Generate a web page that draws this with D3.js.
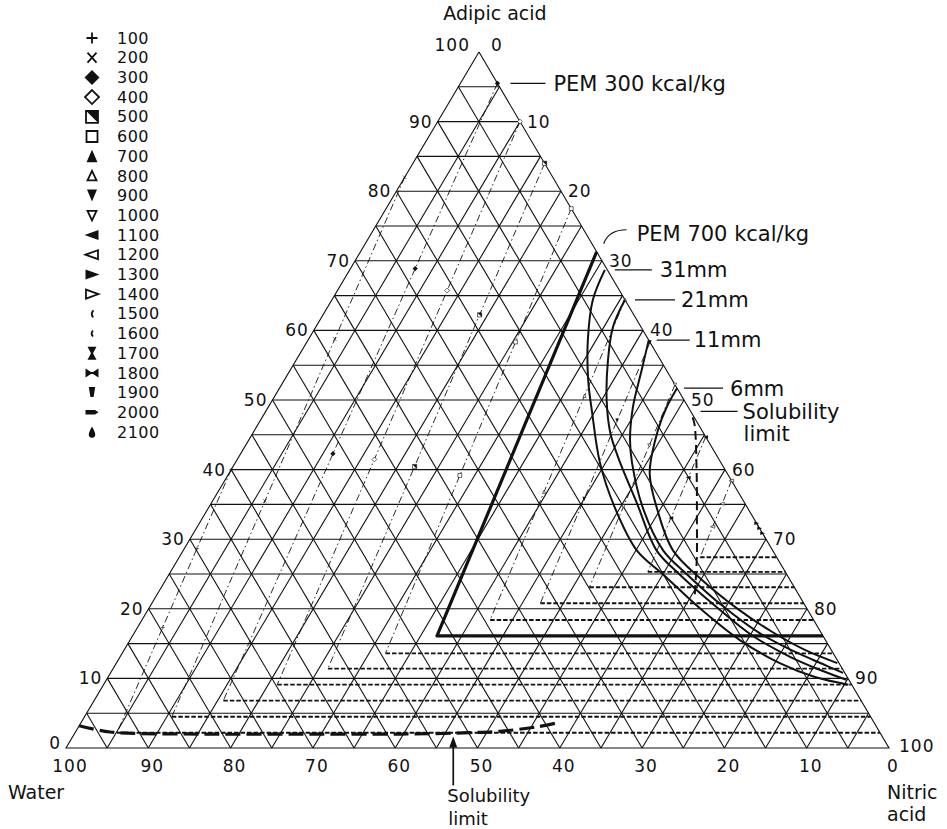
<!DOCTYPE html>
<html>
<head>
<meta charset="utf-8">
<script src="https://cdn.jsdelivr.net/npm/d3@7"></script>
<style>
  body { margin: 0; background: #fff; }
  svg { display: block; }
  text { font-family: "DejaVu Sans", sans-serif; fill: #111; }
</style>
</head>
<body>
<svg id="chart" width="947" height="829"></svg>
<script>
// ternary axes: adipic acid (top), nitric acid (right), water (left)
const gridStep = 5;
const adipicTicks = [0, 10, 20, 30, 40, 50, 60, 70, 80, 90];
const nitricTicks = [10, 20, 30, 40, 50, 60, 70, 80, 90];
const waterTicks = [100, 90, 80, 70, 60, 50, 40, 30, 20, 10, 0];

const legendValues = [100, 200, 300, 400, 500, 600, 700, 800, 900, 1000, 1100,
  1200, 1300, 1400, 1500, 1600, 1700, 1800, 1900, 2000, 2100];

// PEM isolines (kcal/kg): corner on the stoichiometric line, a flat part to the
// nitric edge and a sloped part up to the end point
const pemValues = [100, 200, 300, 400, 500, 600, 700, 800, 900, 1000, 1100, 1200, 1300];
const pemCornerAdipic = [2.2, 4.5, 6.8, 9.1, 11.4, 13.6, 16.1, 18.4, 20.8, 23.1, 25.3, 27.4, 29.9];
const pemCornerNitric = [5.1, 10.6, 15.7, 21.1, 26.1, 32.0, 37.0, 42.3, 47.2, 52.0, 58.0, 63.3, 70.1];
const pemEndAdipic = [40, 82, 95.5, 90, 84, 77.5, 71.3, 64.4, 58.3, 52.2, 44.7, 38.4, 32.3];
const pemEndNitric = [0, 0, 4.5, 10, 16, 22.5, 28.7, 35.6, 41.7, 47.8, 55.3, 61.6, 67.7];

// critical diameter curves, points as [adipic, nitric]
const curveNames = ["31mm", "21mm", "11mm", "6mm"];
const curve31 = [[68.7,31.0],[64.4,31.7],[58.6,34.0],[52.9,36.9],[48.1,39.8],[41.0,44.3],[34.6,49.3],
  [28.4,55.1],[24.9,60.1],[20.1,66.9],[15.5,74.1],[12.2,80.6],[10.2,85.9],[9.1,90.5]];
const curve21 = [[64.4,35.6],[60.5,36.1],[55.7,37.9],[50.0,40.6],[45.3,43.4],[41.8,46.1],[35.2,51.7],
  [28.4,57.5],[24.9,62.1],[20.5,68.5],[16.2,75.2],[13.1,81.4],[11.1,86.3],[9.8,89.9]];
const curve11 = [[58.6,41.4],[54.3,42.7],[49.0,44.3],[44.3,46.3],[41.0,48.2],[34.6,52.7],[28.4,58.3],
  [24.9,63.0],[20.5,69.4],[16.5,76.0],[13.8,81.7],[12.1,85.8],[10.8,89.0]];
const curve6 = [[51.7,48.3],[49.0,48.4],[45.7,49.0],[39.5,51.1],[34.2,54.7],[28.4,59.5],[24.4,64.8],
  [20.1,71.4],[16.7,77.4],[14.1,82.7],[12.2,87.6]];
const curveData = [curve31, curve21, curve11, curve6];

// solubility limits, [adipic, nitric]
const solubilityUpper = [[47.5,52.3],[46.4,53.1],[39.9,56.6],[32.8,60.2],[27.4,62.9],[21.7,65.5]];
const solubilityLower = [[3.2,0],[2.3,4.2],[2.0,15.3],[2.0,27.4],[2.0,39.6],[2.2,48.0],[2.4,51.5],[3.0,55.5],[3.7,58.2]];

const svg = d3.select("#chart");

// projection: y from adipic, x from nitric plus the shift of the slanted edge
const yScale = d3.scaleLinear().domain([0, 100]).range([748, 52]);
const nScale = d3.scaleLinear().domain([0, 100]).range([66, 889]);
const aShift = d3.scaleLinear().domain([0, 100]).range([0, 413]);
function px(a, n) { return [nScale(n) + aShift(a), yScale(a)]; }

const ink = "#111";
const line = d3.line().x(d => px(d[0], d[1])[0]).y(d => px(d[0], d[1])[1]);
const smooth = d3.line().x(d => px(d[0], d[1])[0]).y(d => px(d[0], d[1])[1]).curve(d3.curveCatmullRom);

// legend symbol shapes, one per PEM value
const symbolShapes = [
  ["M-5.5,0H5.5M0,-5.5V5.5", "s"],
  ["M-4.5,-5L4.5,5M4.5,-5L-4.5,5", "s"],
  ["M0,-7.5L7.5,0L0,7.5L-7.5,0Z", "f"],
  ["M0,-7L7,0L0,7L-7,0Z", "s"],
  ["M-6,-6H6V6H-6Z", "h"],
  ["M-5.5,-5.5H5.5V5.5H-5.5Z", "s"],
  ["M0,-6.5L5.5,6H-5.5Z", "f"],
  ["M0,-5L4.5,4.5H-4.5Z", "s"],
  ["M-5,-6H5L0,6Z", "f"],
  ["M-4.5,-4.5H4.5L0,5Z", "s"],
  ["M-7.5,0L6.5,-5V5Z", "f"],
  ["M-6.5,0L6,-4.5V4.5Z", "s"],
  ["M7.5,0L-6.5,-5V5Z", "f"],
  ["M6.5,0L-6,-4.5V4.5Z", "s"],
  ["M1.5,-3.5Q-1.8,0 1.2,3.5", "s"],
  ["M1,-3Q-1.8,0 1,3", "s"],
  ["M-4.5,-6.5H4.5L1,0L4.5,6.5H-4.5L-1,0Z", "f"],
  ["M-6.5,-4.5L-1,-1H1L6.5,-4.5V4.5L1,1H-1L-6.5,4.5Z", "f"],
  ["M-3.2,-5.5H3.2L1.6,4.5H-1.6Z", "f"],
  ["M-6.5,-2.2H3L6.5,0L3,2.2H-6.5Z", "f"],
  ["M0,-5.5C2,-2 3.2,1 3.2,2.5A3.2,3.2 0 0 1 -3.2,2.5C-3.2,1 -2,-2 0,-5.5Z", "f"]
];
function drawSymbol(parent, i, x, y, k) {
  const [d, kind] = symbolShapes[i];
  const g = parent.append("g").attr("transform", `translate(${x},${y}) scale(${k})`);
  if (kind === "h") {
    g.append("path").attr("d", d).attr("fill", "#fff").attr("stroke", ink).attr("stroke-width", 1.8);
    g.append("path").attr("d", "M-6,-6H6V6Z").attr("fill", ink);
  } else if (kind === "f") {
    g.append("path").attr("d", d).attr("fill", ink);
  } else {
    g.append("path").attr("d", d).attr("fill", "#fff").attr("stroke", ink).attr("stroke-width", 1.8);
  }
}

// grid
const grid = svg.append("g").attr("stroke", ink).attr("stroke-width", 1.1).attr("fill", "none");
const steps = d3.range(gridStep, 100, gridStep);
steps.forEach(k => {
  grid.append("path").attr("d", line([[k, 0], [k, 100 - k]]));       // constant adipic
  grid.append("path").attr("d", line([[0, k], [100 - k, k]]));       // constant nitric
  grid.append("path").attr("d", line([[0, 100 - k], [100 - k, 0]])); // constant water
});
grid.append("path").attr("d", line([[100, 0], [0, 0], [0, 100], [100, 0]])).attr("stroke-width", 1.1);

// PEM isolines
const pem = svg.append("g").attr("fill", "none").attr("stroke", ink);
const pemMarks = svg.append("g");
pemValues.forEach((v, i) => {
  const corner = [pemCornerAdipic[i], pemCornerNitric[i]];
  const edge = [pemCornerAdipic[i], 100 - pemCornerAdipic[i]];
  const top = [pemEndAdipic[i], pemEndNitric[i]];
  if (v === 700) {
    pem.append("path").attr("d", line([top, corner, edge]))
      .attr("stroke-width", 3.2).attr("stroke-linejoin", "round");
    return;
  }
  pem.append("path").attr("d", line([corner, edge]))
    .attr("stroke-width", 1.9).attr("stroke-dasharray", "4.5,2");
  pem.append("path").attr("d", line([top, corner]))
    .attr("stroke-width", 0.9).attr("stroke-dasharray", "7,3,1.5,3");
  // sparse markers along the sloped part
  [0, 0.3, 0.6].forEach(t => {
    const p0 = px(top[0], top[1]), p1 = px(corner[0], corner[1]);
    drawSymbol(pemMarks, legendValues.indexOf(v), p0[0] + (p1[0] - p0[0]) * t, p0[1] + (p1[1] - p0[1]) * t, 0.35);
  });
});

// solubility limits
svg.append("path").attr("d", smooth(solubilityUpper)).attr("fill", "none").attr("stroke", ink)
  .attr("stroke-width", 2).attr("stroke-dasharray", "9,5");
svg.append("path").attr("d", smooth(solubilityLower)).attr("fill", "none").attr("stroke", ink)
  .attr("stroke-width", 3.2).attr("stroke-dasharray", "15,6");

// diameter curves
curveData.forEach(c => {
  svg.append("path").attr("d", smooth(c)).attr("fill", "none").attr("stroke", ink).attr("stroke-width", 2);
});

// axis labels
const labels = svg.append("g").style("font-size", "17px").style("letter-spacing", "1px");
adipicTicks.forEach(t => {
  const p = px(t, 0);
  labels.append("text").attr("x", p[0] - 5).attr("y", p[1] - (t === 0 ? 5 : 0)).attr("dy", "0.35em")
    .attr("text-anchor", "end").text(t);
});
labels.append("text").attr("x", px(100, 0)[0] - 9).attr("y", px(100, 0)[1] - 7)
  .attr("text-anchor", "end").attr("dy", "0.35em").text(100);
labels.append("text").attr("x", px(100, 0)[0] + 12).attr("y", px(100, 0)[1] - 7)
  .attr("dy", "0.35em").text(0);
nitricTicks.forEach(t => {
  const p = px(100 - t, t);
  labels.append("text").attr("x", p[0] + 7).attr("y", p[1]).attr("dy", "0.35em").text(t);
});
labels.append("text").attr("x", px(0, 100)[0] + 10).attr("y", px(0, 100)[1] - 2)
  .attr("dy", "0.35em").text(100);
waterTicks.forEach(t => {
  const p = px(0, 100 - t);
  labels.append("text").attr("x", p[0] + 4).attr("y", p[1] + 18).attr("dy", "0.35em")
    .attr("text-anchor", "middle").text(t);
});

// component names
const names = svg.append("g").style("font-size", "19px");
names.append("text").attr("x", px(100, 0)[0] + 16).attr("y", 20).attr("text-anchor", "middle").text("Adipic acid");
names.append("text").attr("x", 8).attr("y", 799).text("Water");
names.append("text").attr("x", 887).attr("y", 799).text("Nitric");
names.append("text").attr("x", 887).attr("y", 821).text("acid");

// annotations
const notes = svg.append("g").style("font-size", "21px");
const leader = svg.append("g").attr("stroke", ink).attr("stroke-width", 1.2).attr("fill", "none");
function note(p, x0, x1, dy, label, xt) {
  leader.append("path").attr("d", `M${p[0] + x0},${p[1] + dy}H${p[0] + x1}`);
  notes.append("text").attr("x", p[0] + xt).attr("y", p[1] + dy).attr("dy", "0.35em").text(label);
}
const i300 = pemValues.indexOf(300), i700 = pemValues.indexOf(700);
const p300 = px(pemEndAdipic[i300], pemEndNitric[i300]);
note(p300, 13, 48, 0, "PEM 300 kcal/kg", 56);
const p700 = px(pemEndAdipic[i700], pemEndNitric[i700]);
leader.append("path").attr("d", `M${p700[0] + 7},${p700[1] - 8}Q${p700[0] + 12},${p700[1] - 22} ${p700[0] + 30},${p700[1] - 22}`);
notes.append("text").attr("x", p700[0] + 40).attr("y", p700[1] - 18).attr("dy", "0.35em").text("PEM 700 kcal/kg");
const curveNote = [[10, 47, 55], [10, 50, 56], [8, 41, 45], [7, 46, 53]];
curveData.forEach((c, i) => {
  const p = px(c[0][0], c[0][1]);
  note(p, curveNote[i][0], curveNote[i][1], 0, curveNames[i], curveNote[i][2]);
});
const pSol = px(solubilityUpper[0][0], solubilityUpper[0][1]);
leader.append("path").attr("d", `M${pSol[0] + 8},${pSol[1] - 6}H${pSol[0] + 45}`);
notes.append("text").attr("x", pSol[0] + 50).attr("y", pSol[1] - 6).attr("dy", "0.35em").text("Solubility");
notes.append("text").attr("x", pSol[0] + 51).attr("y", pSol[1] + 16).attr("dy", "0.35em").text("limit");

// bottom solubility arrow
const pArrow = px(2.1, 46.0);
leader.append("path").attr("d", `M${pArrow[0]},${pArrow[1] + 52}V${pArrow[1] + 8}`).attr("stroke-width", 1.7);
svg.append("path").attr("d", `M${pArrow[0]},${pArrow[1] + 3}l-4,11h8z`).attr("fill", ink);
notes.append("text").attr("x", pArrow[0] - 6).attr("y", pArrow[1] + 62).attr("dy", "0.35em").style("font-size", "18px").text("Solubility");
notes.append("text").attr("x", pArrow[0] - 5).attr("y", pArrow[1] + 85).attr("dy", "0.35em").style("font-size", "18px").text("limit");

// legend
const legendY = d3.scaleLinear().domain([0, legendValues.length - 1]).range([38, 432]);
const legend = svg.append("g");
legendValues.forEach((v, i) => {
  const y = legendY(i);
  drawSymbol(legend, i, 92, y, 1);
  legend.append("text").attr("x", 117).attr("y", y).attr("dy", "0.35em")
    .style("font-size", "16px").style("letter-spacing", "0.5px").text(v);
});
</script>
</body>
</html>
